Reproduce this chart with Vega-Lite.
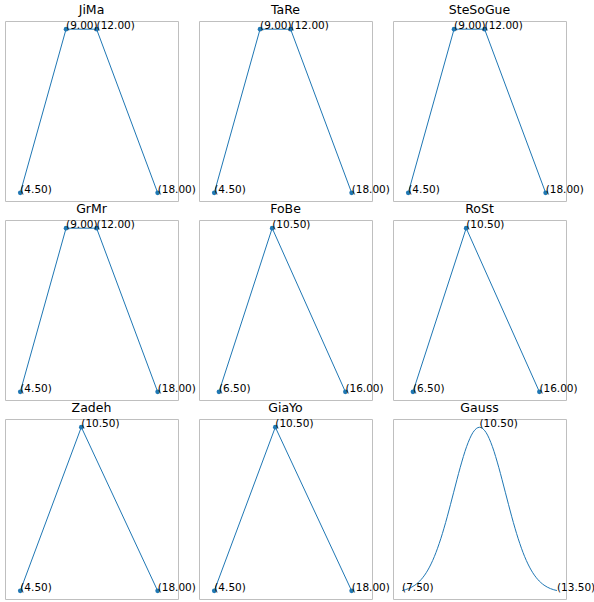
{
  "$schema": "https://vega.github.io/schema/vega-lite/v6.json",
  "padding": {"left": 4, "top": 3, "right": 0, "bottom": 0},
  "columns": 3,
  "spacing": {"row": 19, "column": 21},
  "bounds": "flush",
  "config": {
    "view": {"stroke": "#bfbfbf", "strokeWidth": 1},
    "font": "DejaVu Sans",
    "title": {"fontSize": 12.5, "fontWeight": "normal", "color": "#000000", "offset": 5, "font": "DejaVu Sans"}
  },
  "datasets": {
    "d": [
      {"panel": "JiMa", "x": 4.5, "mu": 0, "label": "(4.50)", "m": 1},
      {"panel": "JiMa", "x": 9, "mu": 1, "label": "(9.00)", "m": 1},
      {"panel": "JiMa", "x": 12, "mu": 1, "label": "(12.00)", "m": 1},
      {"panel": "JiMa", "x": 18, "mu": 0, "label": "(18.00)", "m": 1},
      {"panel": "TaRe", "x": 4.5, "mu": 0, "label": "(4.50)", "m": 1},
      {"panel": "TaRe", "x": 9, "mu": 1, "label": "(9.00)", "m": 1},
      {"panel": "TaRe", "x": 12, "mu": 1, "label": "(12.00)", "m": 1},
      {"panel": "TaRe", "x": 18, "mu": 0, "label": "(18.00)", "m": 1},
      {"panel": "SteSoGue", "x": 4.5, "mu": 0, "label": "(4.50)", "m": 1},
      {"panel": "SteSoGue", "x": 9, "mu": 1, "label": "(9.00)", "m": 1},
      {"panel": "SteSoGue", "x": 12, "mu": 1, "label": "(12.00)", "m": 1},
      {"panel": "SteSoGue", "x": 18, "mu": 0, "label": "(18.00)", "m": 1},
      {"panel": "GrMr", "x": 4.5, "mu": 0, "label": "(4.50)", "m": 1},
      {"panel": "GrMr", "x": 9, "mu": 1, "label": "(9.00)", "m": 1},
      {"panel": "GrMr", "x": 12, "mu": 1, "label": "(12.00)", "m": 1},
      {"panel": "GrMr", "x": 18, "mu": 0, "label": "(18.00)", "m": 1},
      {"panel": "FoBe", "x": 6.5, "mu": 0, "label": "(6.50)", "m": 1},
      {"panel": "FoBe", "x": 10.5, "mu": 1, "label": "(10.50)", "m": 1},
      {"panel": "FoBe", "x": 16, "mu": 0, "label": "(16.00)", "m": 1},
      {"panel": "RoSt", "x": 6.5, "mu": 0, "label": "(6.50)", "m": 1},
      {"panel": "RoSt", "x": 10.5, "mu": 1, "label": "(10.50)", "m": 1},
      {"panel": "RoSt", "x": 16, "mu": 0, "label": "(16.00)", "m": 1},
      {"panel": "Zadeh", "x": 4.5, "mu": 0, "label": "(4.50)", "m": 1},
      {"panel": "Zadeh", "x": 10.5, "mu": 1, "label": "(10.50)", "m": 1},
      {"panel": "Zadeh", "x": 18, "mu": 0, "label": "(18.00)", "m": 1},
      {"panel": "GiaYo", "x": 4.5, "mu": 0, "label": "(4.50)", "m": 1},
      {"panel": "GiaYo", "x": 10.5, "mu": 1, "label": "(10.50)", "m": 1},
      {"panel": "GiaYo", "x": 18, "mu": 0, "label": "(18.00)", "m": 1},
      {"panel": "Gauss", "x": 7.5, "mu": 0.0111, "label": "(7.50)", "m": 0},
      {"panel": "Gauss", "x": 7.75, "mu": 0.0228, "label": null, "m": 0},
      {"panel": "Gauss", "x": 8.0, "mu": 0.0439, "label": null, "m": 0},
      {"panel": "Gauss", "x": 8.25, "mu": 0.0796, "label": null, "m": 0},
      {"panel": "Gauss", "x": 8.5, "mu": 0.1353, "label": null, "m": 0},
      {"panel": "Gauss", "x": 8.75, "mu": 0.2163, "label": null, "m": 0},
      {"panel": "Gauss", "x": 9.0, "mu": 0.3247, "label": null, "m": 0},
      {"panel": "Gauss", "x": 9.25, "mu": 0.4578, "label": null, "m": 0},
      {"panel": "Gauss", "x": 9.5, "mu": 0.6065, "label": null, "m": 0},
      {"panel": "Gauss", "x": 9.75, "mu": 0.7548, "label": null, "m": 0},
      {"panel": "Gauss", "x": 10.0, "mu": 0.8825, "label": null, "m": 0},
      {"panel": "Gauss", "x": 10.25, "mu": 0.9692, "label": null, "m": 0},
      {"panel": "Gauss", "x": 10.5, "mu": 1, "label": "(10.50)", "m": 0},
      {"panel": "Gauss", "x": 10.75, "mu": 0.9692, "label": null, "m": 0},
      {"panel": "Gauss", "x": 11.0, "mu": 0.8825, "label": null, "m": 0},
      {"panel": "Gauss", "x": 11.25, "mu": 0.7548, "label": null, "m": 0},
      {"panel": "Gauss", "x": 11.5, "mu": 0.6065, "label": null, "m": 0},
      {"panel": "Gauss", "x": 11.75, "mu": 0.4578, "label": null, "m": 0},
      {"panel": "Gauss", "x": 12.0, "mu": 0.3247, "label": null, "m": 0},
      {"panel": "Gauss", "x": 12.25, "mu": 0.2163, "label": null, "m": 0},
      {"panel": "Gauss", "x": 12.5, "mu": 0.1353, "label": null, "m": 0},
      {"panel": "Gauss", "x": 12.75, "mu": 0.0796, "label": null, "m": 0},
      {"panel": "Gauss", "x": 13.0, "mu": 0.0439, "label": null, "m": 0},
      {"panel": "Gauss", "x": 13.25, "mu": 0.0228, "label": null, "m": 0},
      {"panel": "Gauss", "x": 13.5, "mu": 0.0111, "label": "(13.50)", "m": 0}
    ]
  },
  "concat": [
    {
      "title": "JiMa", "width": 173, "height": 180,
      "data": {"name": "d"},
      "transform": [{"filter": "datum.panel === 'JiMa'"}],
      "encoding": {
        "x": {"field": "x", "type": "quantitative", "scale": {"domain": [3, 20], "nice": false, "zero": false}, "axis": null},
        "y": {"field": "mu", "type": "quantitative", "scale": {"domain": [-0.05, 1.05], "nice": false, "zero": false}, "axis": null}
      },
      "layer": [
        {"mark": {"type": "line", "color": "#1f77b4", "strokeWidth": 1}},
        {"transform": [{"filter": "datum.m == 1"}], "mark": {"type": "circle", "color": "#1f77b4", "size": 22, "opacity": 1}},
        {"transform": [{"filter": "datum.label != null"}], "mark": {"type": "text", "align": "left", "baseline": "alphabetic", "fontSize": 10.5, "font": "DejaVu Sans", "color": "#000000"}, "encoding": {"text": {"field": "label"}}}
      ]
    },
    {
      "title": "TaRe", "width": 173, "height": 180,
      "data": {"name": "d"},
      "transform": [{"filter": "datum.panel === 'TaRe'"}],
      "encoding": {
        "x": {"field": "x", "type": "quantitative", "scale": {"domain": [3, 20], "nice": false, "zero": false}, "axis": null},
        "y": {"field": "mu", "type": "quantitative", "scale": {"domain": [-0.05, 1.05], "nice": false, "zero": false}, "axis": null}
      },
      "layer": [
        {"mark": {"type": "line", "color": "#1f77b4", "strokeWidth": 1}},
        {"transform": [{"filter": "datum.m == 1"}], "mark": {"type": "circle", "color": "#1f77b4", "size": 22, "opacity": 1}},
        {"transform": [{"filter": "datum.label != null"}], "mark": {"type": "text", "align": "left", "baseline": "alphabetic", "fontSize": 10.5, "font": "DejaVu Sans", "color": "#000000"}, "encoding": {"text": {"field": "label"}}}
      ]
    },
    {
      "title": "SteSoGue", "width": 173, "height": 180,
      "data": {"name": "d"},
      "transform": [{"filter": "datum.panel === 'SteSoGue'"}],
      "encoding": {
        "x": {"field": "x", "type": "quantitative", "scale": {"domain": [3, 20], "nice": false, "zero": false}, "axis": null},
        "y": {"field": "mu", "type": "quantitative", "scale": {"domain": [-0.05, 1.05], "nice": false, "zero": false}, "axis": null}
      },
      "layer": [
        {"mark": {"type": "line", "color": "#1f77b4", "strokeWidth": 1}},
        {"transform": [{"filter": "datum.m == 1"}], "mark": {"type": "circle", "color": "#1f77b4", "size": 22, "opacity": 1}},
        {"transform": [{"filter": "datum.label != null"}], "mark": {"type": "text", "align": "left", "baseline": "alphabetic", "fontSize": 10.5, "font": "DejaVu Sans", "color": "#000000"}, "encoding": {"text": {"field": "label"}}}
      ]
    },
    {
      "title": "GrMr", "width": 173, "height": 180,
      "data": {"name": "d"},
      "transform": [{"filter": "datum.panel === 'GrMr'"}],
      "encoding": {
        "x": {"field": "x", "type": "quantitative", "scale": {"domain": [3, 20], "nice": false, "zero": false}, "axis": null},
        "y": {"field": "mu", "type": "quantitative", "scale": {"domain": [-0.05, 1.05], "nice": false, "zero": false}, "axis": null}
      },
      "layer": [
        {"mark": {"type": "line", "color": "#1f77b4", "strokeWidth": 1}},
        {"transform": [{"filter": "datum.m == 1"}], "mark": {"type": "circle", "color": "#1f77b4", "size": 22, "opacity": 1}},
        {"transform": [{"filter": "datum.label != null"}], "mark": {"type": "text", "align": "left", "baseline": "alphabetic", "fontSize": 10.5, "font": "DejaVu Sans", "color": "#000000"}, "encoding": {"text": {"field": "label"}}}
      ]
    },
    {
      "title": "FoBe", "width": 173, "height": 180,
      "data": {"name": "d"},
      "transform": [{"filter": "datum.panel === 'FoBe'"}],
      "encoding": {
        "x": {"field": "x", "type": "quantitative", "scale": {"domain": [5, 18], "nice": false, "zero": false}, "axis": null},
        "y": {"field": "mu", "type": "quantitative", "scale": {"domain": [-0.05, 1.05], "nice": false, "zero": false}, "axis": null}
      },
      "layer": [
        {"mark": {"type": "line", "color": "#1f77b4", "strokeWidth": 1}},
        {"transform": [{"filter": "datum.m == 1"}], "mark": {"type": "circle", "color": "#1f77b4", "size": 22, "opacity": 1}},
        {"transform": [{"filter": "datum.label != null"}], "mark": {"type": "text", "align": "left", "baseline": "alphabetic", "fontSize": 10.5, "font": "DejaVu Sans", "color": "#000000"}, "encoding": {"text": {"field": "label"}}}
      ]
    },
    {
      "title": "RoSt", "width": 173, "height": 180,
      "data": {"name": "d"},
      "transform": [{"filter": "datum.panel === 'RoSt'"}],
      "encoding": {
        "x": {"field": "x", "type": "quantitative", "scale": {"domain": [5, 18], "nice": false, "zero": false}, "axis": null},
        "y": {"field": "mu", "type": "quantitative", "scale": {"domain": [-0.05, 1.05], "nice": false, "zero": false}, "axis": null}
      },
      "layer": [
        {"mark": {"type": "line", "color": "#1f77b4", "strokeWidth": 1}},
        {"transform": [{"filter": "datum.m == 1"}], "mark": {"type": "circle", "color": "#1f77b4", "size": 22, "opacity": 1}},
        {"transform": [{"filter": "datum.label != null"}], "mark": {"type": "text", "align": "left", "baseline": "alphabetic", "fontSize": 10.5, "font": "DejaVu Sans", "color": "#000000"}, "encoding": {"text": {"field": "label"}}}
      ]
    },
    {
      "title": "Zadeh", "width": 173, "height": 180,
      "data": {"name": "d"},
      "transform": [{"filter": "datum.panel === 'Zadeh'"}],
      "encoding": {
        "x": {"field": "x", "type": "quantitative", "scale": {"domain": [3, 20], "nice": false, "zero": false}, "axis": null},
        "y": {"field": "mu", "type": "quantitative", "scale": {"domain": [-0.05, 1.05], "nice": false, "zero": false}, "axis": null}
      },
      "layer": [
        {"mark": {"type": "line", "color": "#1f77b4", "strokeWidth": 1}},
        {"transform": [{"filter": "datum.m == 1"}], "mark": {"type": "circle", "color": "#1f77b4", "size": 22, "opacity": 1}},
        {"transform": [{"filter": "datum.label != null"}], "mark": {"type": "text", "align": "left", "baseline": "alphabetic", "fontSize": 10.5, "font": "DejaVu Sans", "color": "#000000"}, "encoding": {"text": {"field": "label"}}}
      ]
    },
    {
      "title": "GiaYo", "width": 173, "height": 180,
      "data": {"name": "d"},
      "transform": [{"filter": "datum.panel === 'GiaYo'"}],
      "encoding": {
        "x": {"field": "x", "type": "quantitative", "scale": {"domain": [3, 20], "nice": false, "zero": false}, "axis": null},
        "y": {"field": "mu", "type": "quantitative", "scale": {"domain": [-0.05, 1.05], "nice": false, "zero": false}, "axis": null}
      },
      "layer": [
        {"mark": {"type": "line", "color": "#1f77b4", "strokeWidth": 1}},
        {"transform": [{"filter": "datum.m == 1"}], "mark": {"type": "circle", "color": "#1f77b4", "size": 22, "opacity": 1}},
        {"transform": [{"filter": "datum.label != null"}], "mark": {"type": "text", "align": "left", "baseline": "alphabetic", "fontSize": 10.5, "font": "DejaVu Sans", "color": "#000000"}, "encoding": {"text": {"field": "label"}}}
      ]
    },
    {
      "title": "Gauss", "width": 173, "height": 180,
      "data": {"name": "d"},
      "transform": [{"filter": "datum.panel === 'Gauss'"}],
      "encoding": {
        "x": {"field": "x", "type": "quantitative", "scale": {"domain": [7.15, 13.85], "nice": false, "zero": false}, "axis": null},
        "y": {"field": "mu", "type": "quantitative", "scale": {"domain": [-0.04, 1.05], "nice": false, "zero": false}, "axis": null}
      },
      "layer": [
        {"mark": {"type": "line", "color": "#1f77b4", "strokeWidth": 1, "interpolate": "monotone"}},
        {"transform": [{"filter": "datum.label != null"}], "mark": {"type": "text", "align": "left", "baseline": "alphabetic", "fontSize": 10.5, "font": "DejaVu Sans", "color": "#000000"}, "encoding": {"text": {"field": "label"}}}
      ]
    }
  ]
}
